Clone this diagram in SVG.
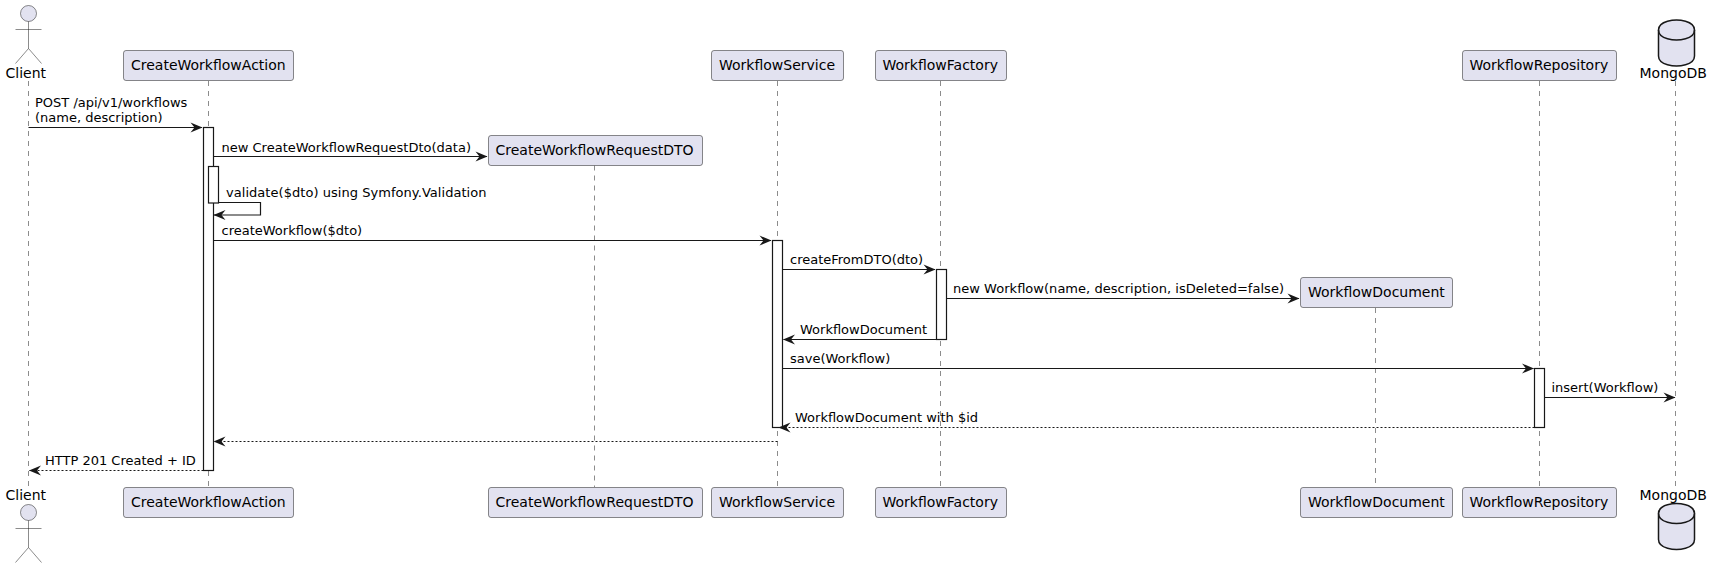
<svg xmlns="http://www.w3.org/2000/svg" width="1712" height="568" viewBox="0 0 1712 568">
<style>
text{font-family:"DejaVu Sans",sans-serif;fill:#000}
.p{font-size:14px}
.m{font-size:13px}
.box{fill:#E2E2F0;stroke:#181818;stroke-width:.5}
.life{stroke:#181818;stroke-width:.5;stroke-dasharray:5 5;fill:none}
.act{fill:#fff;stroke:#181818;stroke-width:1.2}
.fig{fill:#E2E2F0;stroke:#181818;stroke-width:.5}
.db{fill:#E2E2F0;stroke:#181818;stroke-width:1.5}
.dbl{fill:none;stroke:#181818;stroke-width:1.5}
.arr{stroke:#181818;stroke-width:1.2;fill:none;marker-end:url(#head)}
.dash{stroke-dasharray:2 2}
</style>
<defs>
<marker id="head" markerUnits="userSpaceOnUse" markerWidth="13" markerHeight="11" refX="11.5" refY="5" orient="auto" overflow="visible">
<path d="M0 0L12 5L0 10L4 5Z" fill="#181818"/>
</marker>
<g id="actor"><circle cx="0" cy="0" r="8"/><path d="M0 8V35M-13 16H13M0 35L-13 50M0 35L13 50" fill="none"/></g>
<g id="cyl"><path class="db" d="M0 10C0 0 18 0 18 0C18 0 36 0 36 10V36C36 46 18 46 18 46C18 46 0 46 0 36Z"/><path class="dbl" d="M0 10C0 20 18 20 18 20C18 20 36 20 36 10"/></g>
</defs>
<g id="lifelines">
<path class="life" d="M28.5 81V487"/>
<path class="life" d="M208.5 81V487"/>
<path class="life" d="M594.5 165.5V487"/>
<path class="life" d="M777.5 81V487"/>
<path class="life" d="M940.5 81V487"/>
<path class="life" d="M1375.5 308V487"/>
<path class="life" d="M1539.5 81V487"/>
<path class="life" d="M1675.5 81V487"/>
</g>
<g id="activations">
<rect class="act" x="203.5" y="127.5" width="10" height="343"/>
<rect class="act" x="208.5" y="166.5" width="10" height="36.5"/>
<rect class="act" x="772.5" y="240.5" width="10" height="187"/>
<rect class="act" x="936.5" y="269.5" width="10" height="70"/>
<rect class="act" x="1534.5" y="368.5" width="10" height="59"/>
</g>
<g id="connectors">
<path class="arr" d="M28.5 127.5H202"/>
<text class="m" x="35" y="107">POST /api/v1/workflows</text>
<text class="m" x="35" y="122">(name, description)</text>
<path class="arr" d="M213.5 156.5H487"/>
<text class="m" x="221.5" y="152" textLength="249.5">new CreateWorkflowRequestDto(data)</text>
<path class="arr" d="M218.5 202.5H260.5V215H214"/>
<text class="m" x="226" y="197" textLength="260.5">validate($dto) using Symfony.Validation</text>
<path class="arr" d="M213.5 240.5H771"/>
<text class="m" x="221.5" y="235">createWorkflow($dto)</text>
<path class="arr" d="M782.5 269.5H935"/>
<text class="m" x="790" y="264">createFromDTO(dto)</text>
<path class="arr" d="M946.5 298.5H1299"/>
<text class="m" x="953" y="293" textLength="331">new Workflow(name, description, isDeleted=false)</text>
<path class="arr" d="M936.5 339.5H783.5"/>
<text class="m" x="800" y="334">WorkflowDocument</text>
<path class="arr" d="M782.5 368.5H1533.5"/>
<text class="m" x="790" y="363">save(Workflow)</text>
<path class="arr" d="M1544.5 397.5H1675"/>
<text class="m" x="1551.5" y="392">insert(Workflow)</text>
<path class="arr dash" d="M1534.5 427.5H779"/>
<text class="m" x="795" y="422">WorkflowDocument with $id</text>
<path class="arr dash" d="M777.5 441.5H214"/>
<path class="arr dash" d="M203.5 470.5H29.5"/>
<text class="m" x="45" y="465">HTTP 201 Created + ID</text>
</g>
<g id="client">
<use href="#actor" class="fig" x="28.5" y="13.5"/>
<text class="p" x="5.5" y="77.5">Client</text>
<text class="p" x="5.5" y="499.5">Client</text>
<use href="#actor" class="fig" x="28.5" y="512.5"/>
</g>
<g id="createWorkflowAction">
<rect class="box" x="123.5" y="50.5" width="170" height="30" rx="2.5"/>
<text class="p" x="131" y="70">CreateWorkflowAction</text>
<rect class="box" x="123.5" y="487.5" width="170" height="30" rx="2.5"/>
<text class="p" x="131" y="507">CreateWorkflowAction</text>
</g>
<g id="createWorkflowRequestDTO">
<rect class="box" x="488.5" y="135.5" width="214" height="30" rx="2.5"/>
<text class="p" x="495.5" y="155">CreateWorkflowRequestDTO</text>
<rect class="box" x="488.5" y="487.5" width="214" height="30" rx="2.5"/>
<text class="p" x="495.5" y="507">CreateWorkflowRequestDTO</text>
</g>
<g id="workflowService">
<rect class="box" x="711.5" y="50.5" width="132" height="30" rx="2.5"/>
<text class="p" x="719" y="70">WorkflowService</text>
<rect class="box" x="711.5" y="487.5" width="132" height="30" rx="2.5"/>
<text class="p" x="719" y="507">WorkflowService</text>
</g>
<g id="workflowFactory">
<rect class="box" x="875.5" y="50.5" width="131" height="30" rx="2.5"/>
<text class="p" x="882.5" y="70">WorkflowFactory</text>
<rect class="box" x="875.5" y="487.5" width="131" height="30" rx="2.5"/>
<text class="p" x="882.5" y="507">WorkflowFactory</text>
</g>
<g id="workflowDocument">
<rect class="box" x="1300.5" y="277.5" width="152" height="30" rx="2.5"/>
<text class="p" x="1308" y="297">WorkflowDocument</text>
<rect class="box" x="1300.5" y="487.5" width="152" height="30" rx="2.5"/>
<text class="p" x="1308" y="507">WorkflowDocument</text>
</g>
<g id="workflowRepository">
<rect class="box" x="1462.5" y="50.5" width="154" height="30" rx="2.5"/>
<text class="p" x="1469.5" y="70">WorkflowRepository</text>
<rect class="box" x="1462.5" y="487.5" width="154" height="30" rx="2.5"/>
<text class="p" x="1469.5" y="507">WorkflowRepository</text>
</g>
<g id="mongoDB">
<use href="#cyl" x="1658.5" y="20"/>
<text class="p" x="1639.5" y="77.5">MongoDB</text>
<text class="p" x="1639.5" y="499.5">MongoDB</text>
<use href="#cyl" x="1658.5" y="503.5"/>
</g>
</svg>
